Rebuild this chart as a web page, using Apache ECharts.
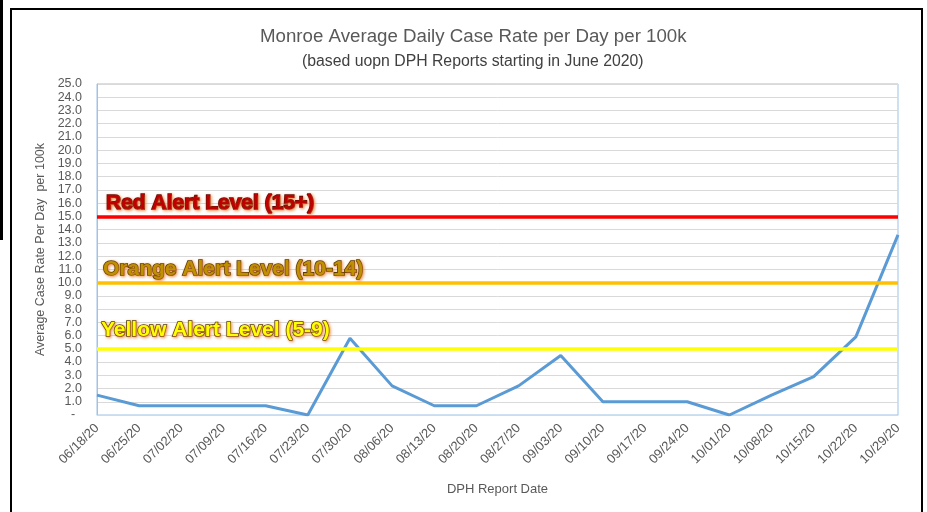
<!DOCTYPE html>
<html>
<head>
<meta charset="utf-8">
<script src="https://cdn.jsdelivr.net/npm/echarts@6/dist/echarts.min.js"></script>
<style>
html,body{margin:0;padding:0;background:#fff;}
#chart{width:927px;height:512px;}
</style>
</head>
<body>
<div id="chart"></div>
<script>
var titleText = 'Monroe Average Daily Case Rate per Day per 100k';
var subtitleText = '(based uopn DPH Reports starting in June 2020)';
var xAxisName = 'DPH Report Date';
var yAxisName = 'Average Case Rate Per Day  per 100k';
var dates = ['06/18/20','06/25/20','07/02/20','07/09/20','07/16/20','07/23/20','07/30/20','08/06/20','08/13/20','08/20/20','08/27/20','09/03/20','09/10/20','09/17/20','09/24/20','10/01/20','10/08/20','10/15/20','10/22/20','10/29/20'];
var rates = [1.5,0.7,0.7,0.7,0.7,0,5.8,2.2,0.7,0.7,2.2,4.5,1.0,1.0,1.0,0,1.5,2.9,5.9,13.6];
var alertLevels = [15, 10, 5];
var alertLabels = ['Red Alert Level (15+)', 'Orange Alert Level (10-14)', 'Yellow Alert Level (5-9)'];
var yMin = 0, yMax = 25, yStep = 1;

var alertStyles = [
  {line:'#FF0000', fill:'#C00000', border:'#5a0000', dist:[9,3]},
  {line:'#FFC000', fill:'#BF9000', border:'#4d3500', dist:[6,3]},
  {line:'#FFFF00', fill:'#FFFF00', border:'#4d4000', dist:[4,8]}
];
var font = 'Liberation Sans, Arial, sans-serif';

var chart = echarts.init(document.getElementById('chart'), null, {renderer:'canvas'});
var option = {
  backgroundColor:'#fff',
  animation:false,
  title:[
    {text:titleText, left:255, top:22, textStyle:{fontFamily:font, fontSize:18.7, fontWeight:'normal', color:'#595959'}},
    {text:subtitleText, left:297, top:49, textStyle:{fontFamily:font, fontSize:15.8, fontWeight:'normal', color:'#404040'}}
  ],
  graphic:[
    {type:'rect', shape:{x:0,y:0,width:3,height:240}, style:{fill:'#000'}, silent:true},
    {type:'rect', shape:{x:11,y:9,width:911,height:520}, style:{fill:'none', stroke:'#000', lineWidth:2}, silent:true}
  ],
  grid:{left:97, right:29, top:84, bottom:97, show:true, borderColor:'#9DC3E6', borderWidth:1, backgroundColor:'transparent'},
  xAxis:{
    type:'category', data:dates, boundaryGap:false,
    name:xAxisName, nameLocation:'middle', nameGap:68,
    nameTextStyle:{fontFamily:font, fontSize:13, color:'#595959'},
    axisLine:{show:true, lineStyle:{color:'#D9D9D9', width:1}},
    axisTick:{show:false},
    axisLabel:{interval:0, rotate:45, margin:11, fontFamily:font, fontSize:13, color:'#595959'},
    splitLine:{show:false}
  },
  yAxis:{
    type:'value', min:yMin, max:yMax, interval:yStep,
    name:yAxisName, nameLocation:'middle', nameGap:48,
    nameTextStyle:{fontFamily:font, fontSize:12.5, color:'#595959'},
    axisLine:{show:true, lineStyle:{color:'#9DC3E6'}},
    axisTick:{show:false},
    axisLabel:{margin:15, fontFamily:font, fontSize:12.5, color:'#595959',
      formatter:function(v){return v===0 ? '-  ' : v.toFixed(1);}},
    splitLine:{show:true, lineStyle:{color:'#D9D9D9', width:1}}
  },
  series:[{
    type:'line', data:rates, symbol:'none', smooth:false,
    lineStyle:{color:'#5B9BD5', width:3},
    itemStyle:{color:'#5B9BD5'},
    z:2,
    markLine:{
      silent:true, symbol:['none','none'], z:5,
      data:alertLevels.map(function(v,i){
        var s = alertStyles[i];
        return {
          yAxis:v,
          lineStyle:{color:s.line, width:3.5, type:'solid'},
          label:{show:true, position:'insideStartTop', distance:s.dist, formatter:alertLabels[i],
            fontFamily:font, fontSize:21, fontWeight:'bold', color:s.fill,
            textBorderColor:s.border, textBorderWidth:1.6,
            textShadowColor:'rgba(237,125,49,0.8)', textShadowBlur:3, textShadowOffsetX:1, textShadowOffsetY:1}
        };
      })
    }
  }]
};
chart.setOption(option);
</script>
</body>
</html>
